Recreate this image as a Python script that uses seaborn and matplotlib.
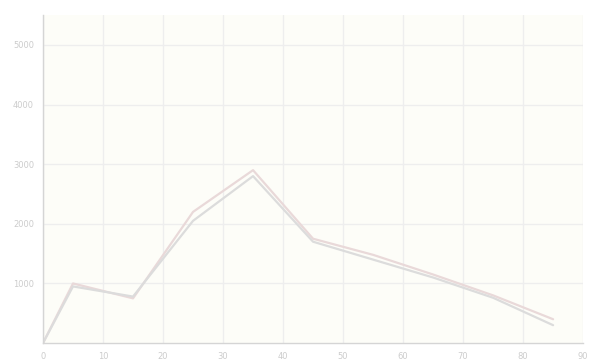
import pandas as pd
import seaborn as sns
import matplotlib.pyplot as plt

# --- dados ---
x_vals = [0, 5, 15, 25, 35, 45, 55, 65, 75, 85]
serie_a = [0, 1000, 750, 2200, 2900, 1750, 1480, 1150, 800, 400]
serie_b = [0, 950, 780, 2050, 2800, 1700, 1400, 1100, 760, 300]
x_ticks = [0, 10, 20, 30, 40, 50, 60, 70, 80, 90]
y_ticks = [1000, 2000, 3000, 4000, 5000]

df = pd.DataFrame({
    'x': x_vals * 2,
    'valor': serie_a + serie_b,
    'serie': ['A'] * len(x_vals) + ['B'] * len(x_vals),
})

sns.set_theme(style="whitegrid")

fig = plt.figure(figsize=(5.89, 3.6), dpi=100)
fig.patch.set_facecolor('white')
ax = fig.add_axes([0.073, 0.047, 0.917, 0.911])
ax.set_facecolor('#fdfdf8')

sns.lineplot(data=df, x='x', y='valor', hue='serie',
             palette={'A': '#e9d9d9', 'B': '#dcdcdc'},
             linewidth=1.6, legend=False, ax=ax)

ax.set_xlim(0, 90)
ax.set_ylim(0, 5500)
ax.set_xticks(x_ticks)
ax.set_yticks(y_ticks)
ax.set_xlabel('')
ax.set_ylabel('')
ax.tick_params(axis='both', labelsize=6, colors='#cccccc', length=3)
ax.grid(True, color='#eeeeee', linewidth=1)

for lado in ['top', 'right']:
    ax.spines[lado].set_visible(False)
for lado in ['left', 'bottom']:
    ax.spines[lado].set_color('#d5d5d5')
    ax.spines[lado].set_linewidth(1)

plt.savefig('out.png', dpi=100)
